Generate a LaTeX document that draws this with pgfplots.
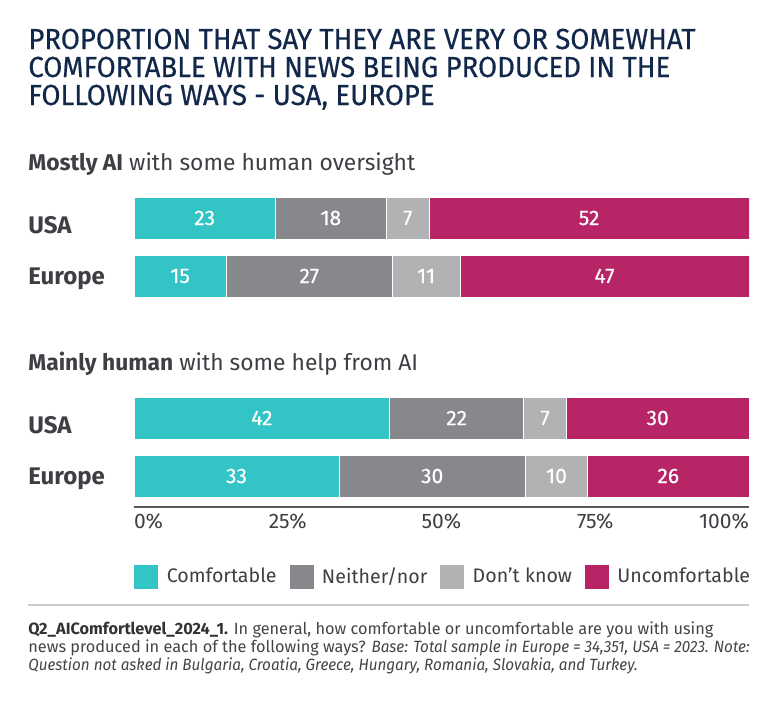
\documentclass[border=0pt]{standalone}
\usepackage{pgfplots}
\pgfplotsset{compat=1.18}
\usepackage{fontspec}
\setmainfont{Fira Sans}
\newfontfamily\titlefont[FakeStretch=0.95,FakeBold=0.5]{Fira Sans}
\newfontfamily\footfont[ItalicFeatures={FakeStretch=0.935}]{Fira Sans}
\newfontfamily\numfont[FakeBold=0.3]{Fira Sans}
\definecolor{cteal}{HTML}{33C4C5}
\definecolor{cdgray}{HTML}{87888C}
\definecolor{clgray}{HTML}{B1B2B4}
\definecolor{cmag}{HTML}{B72567}
\definecolor{cnavy}{HTML}{12284A}
\definecolor{ctext}{HTML}{3E3E44}
\definecolor{cfoot}{HTML}{444444}
\pgfplotsset{
  geom/.style={at={(67pt,-253.5pt)}, anchor=south west,
    scale only axis, width=307.5pt, height=158.5pt,
    xmin=0, xmax=100, ymin=-507, ymax=-190, enlargelimits=false},
}
\begin{document}
\begin{tikzpicture}
\useasboundingbox (0,0) rectangle (390.5pt,-351.5pt);
\begin{scope}[x=0.5pt,y=-0.5pt]
\tikzset{tl/.style={anchor=base west,inner sep=0pt,text=cnavy,font=\titlefont\fontsize{14.5pt}{17pt}\selectfont}}
\node[tl] at (28,49) {PROPORTION THAT SAY THEY ARE VERY OR SOMEWHAT};
\node[tl] at (28,77) {COMFORTABLE WITH NEWS BEING PRODUCED IN THE};
\node[tl] at (28,105) {FOLLOWING WAYS - USA, EUROPE};
\tikzset{st/.style={anchor=base west,inner sep=0pt,text=ctext,font=\fontsize{11.4pt}{13pt}\selectfont}}
\node[st] at (28,170) {\textbf{Mostly AI} with some human oversight};
\node[st] at (28,370) {\textbf{Mainly human} with some help from AI};
\draw[color=black!20, line width=1pt] (28,605) -- (749,605);
\tikzset{ft/.style={anchor=base west,inner sep=0pt,text=cfoot,font=\footfont\fontsize{8.15pt}{9pt}\selectfont}}
\node[ft] at (28,634) {\textbf{\color{black!80}Q2\_AIComfortlevel\_2024\_1.} In general, how comfortable or uncomfortable are you with using};
\node[ft] at (28,652) {news produced in each of the following ways? \textit{Base: Total sample in Europe = 34,351, USA = 2023. Note:}};
\node[ft] at (28,670) {\textit{Question not asked in Bulgaria, Croatia, Greece, Hungary, Romania, Slovakia, and Turkey.}};
\end{scope}
\begin{axis}[
  geom,
  xbar stacked, bar width=21pt,
  axis x line*=bottom, axis y line*=left,
  x axis line style={draw=black!65, line width=0.75pt, -},
  y axis line style={draw=none},
  major tick length=0pt,
  xtick={0,25,50,75,100},
  xticklabels={\makebox[0pt][l]{0\%},25\%,50\%,75\%,\makebox[0pt][r]{100\%}},
  xticklabel style={anchor=base, inner sep=0pt, yshift=-10.5pt, text=ctext, font=\fontsize{10.5pt}{12pt}\selectfont},
  ytick={-476,-418,-276,-218},
  yticklabels={Europe,\raisebox{-3.5pt}{USA},Europe,\raisebox{-3.5pt}{USA}},
  yticklabel style={anchor=base west, inner sep=0pt, xshift=-53pt, yshift=-4pt, text=ctext, font=\bfseries\fontsize{12pt}{14pt}\selectfont},
  legend columns=4,
  legend cell align=left,
  legend style={at={(0,0)}, anchor=west, yshift=-35pt, draw=none, fill=none, inner sep=0pt, text=ctext, font=\fontsize{9.8pt}{12pt}\selectfont, /tikz/every even column/.append style={column sep=4.5pt}},
  legend image code/.code={\fill[#1,draw=none] (0pt,-6pt) rectangle (12pt,6pt); \path (14pt,0pt);},
]
\addplot[fill=cteal, draw=white, line width=0.4pt] coordinates {(23,-218) (15,-276) (41.58,-418) (33.33,-476)};
\addplot[fill=cdgray, draw=white, line width=0.4pt] coordinates {(18,-218) (27,-276) (21.78,-418) (30.30,-476)};
\addplot[fill=clgray, draw=white, line width=0.4pt] coordinates {(7,-218) (11,-276) (6.93,-418) (10.10,-476)};
\addplot[fill=cmag, draw=white, line width=0.4pt] coordinates {(52,-218) (47,-276) (29.70,-418) (26.26,-476)};
\legend{Comfortable, Neither/nor, Don’t know, Uncomfortable}
\end{axis}
\begin{axis}[
  geom, hide axis,
  nodes near coords,
  point meta=explicit symbolic,
  every node near coord/.append style={anchor=center, text=white, font=\numfont\fontsize{10.5pt}{12pt}\selectfont},
]
\addplot[only marks, mark=none] coordinates {
  (11.5,-218)[23] (32,-218)[18] (44.5,-218)[7] (74,-218)[52]
  (7.5,-276)[15] (28.5,-276)[27] (47.5,-276)[11] (76.5,-276)[47]
  (20.79,-418)[42] (52.47,-418)[22] (66.83,-418)[7] (85.15,-418)[30]
  (16.67,-476)[33] (48.48,-476)[30] (68.69,-476)[10] (86.87,-476)[26]};
\end{axis}
\end{tikzpicture}
\end{document}
